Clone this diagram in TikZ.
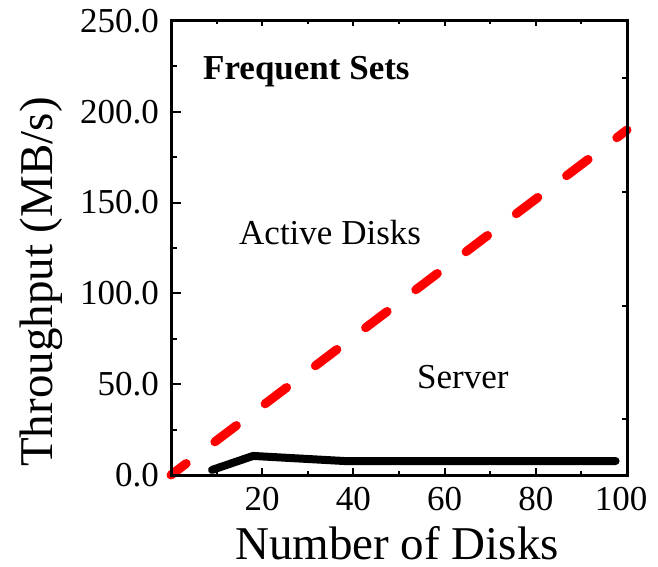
\documentclass[tikz,border=0pt]{standalone}
\usepackage{fontspec}
\setmainfont{Liberation Serif}
\usetikzlibrary{positioning}

\tikzset{
  ticklabel/.style={inner sep=0pt, font=\fontsize{35}{40}\selectfont},
  axislabel/.style={inner sep=0pt, font=\fontsize{47}{54}\selectfont},
  curvelabel/.style={inner sep=0pt, anchor=base west, font=\fontsize{35}{40}\selectfont},
  plotframe/.style={line width=3pt},
  tickline/.style={line width=2pt},
  activeline/.style={red, line width=9pt, line cap=round, dash pattern=on 27pt off 36pt, dash phase=8pt},
  serverline/.style={black, line width=8pt, line cap=round, line join=round}
}

\begin{document}
\begin{tikzpicture}[x=1pt, y=1pt]
            \useasboundingbox (0,0) rectangle (658,566);

            % data area: 0..100 disks, 0..250 MB/s
            \begin{scope}[shift={(171pt,91pt)}, x=4.56pt, y=1.816pt]
            \coordinate (origin) at (0,0);
            \coordinate (corner) at (100,250);

            % Active Disks
            \draw[activeline] (0,0) -- (100,190);

            % Server
            \draw[serverline] (9,2.8) -- (18,10.5) -- (38,7.7) -- (97.5,7.7);

            % ticks
            \foreach \v in {0,50,...,250}
                \draw[tickline] (0,\v) -- ++(10pt,0);
            \foreach \v in {25,75,...,225}
                \draw[tickline] (0,\v) -- ++(6pt,0);
            \foreach \v in {20,40,...,80} {
                \draw[tickline] (\v,0) -- ++(0,7pt);
                \draw[tickline] (\v,250) -- ++(0,-5pt);
            }
            \foreach \v in {10,30,...,90} {
                \draw[tickline] (\v,0) -- ++(0,4.5pt);
                \draw[tickline] (\v,250) -- ++(0,-3.5pt);
            }

            % y tick labels
            \foreach \v in {0,50,...,250}
                \node[ticklabel, anchor=east] (ylab\v) at ([xshift=-12pt]0,\v) {\v.0};
            % x tick labels
            \foreach \v in {20,40,...,80}
                \node[ticklabel, anchor=north] (xlab\v) at ([yshift=-12pt]\v,0) {\v};
            \node[ticklabel, anchor=north] (xlab100) at ([xshift=-6pt, yshift=-12pt]100,0) {100};
            \end{scope}

            % right axis ticks
            \foreach \y in {488,374,260,147}
                \draw[tickline] (627,\y) -- ++(-5,0);

            % frame
            \draw[plotframe] (origin) rectangle (corner);

            % axis titles
            \node[axislabel, anchor=base] (xtitle) at (397,7) {Number of Disks};
            \node[axislabel, anchor=base, rotate=90] (ytitle) at (52,284) {Throughput (MB/s)};

            % curve labels
            \node[curvelabel, font=\fontsize{35}{40}\selectfont\bfseries] (title) at (203,486) {Frequent Sets};
            \node[curvelabel] (active) at (239,322) {Active Disks};
            \node[curvelabel] (server) at (417,178) {Server};
        \end{tikzpicture}
\end{document}
